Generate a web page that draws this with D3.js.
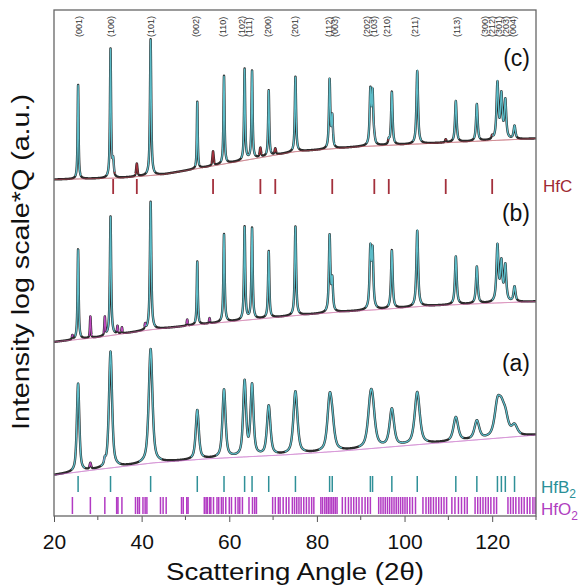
<!DOCTYPE html>
<html>
<head>
<meta charset="utf-8">
<script src="https://cdn.jsdelivr.net/npm/d3@7"></script>
<style>
body { margin: 0; background: #fff; }
svg { display: block; font-family: Arial, "Liberation Sans", sans-serif; }
</style>
</head>
<body>
<script>
// reflection positions (2theta)
const hfb2Peaks = [25.5, 32.9, 42.05, 52.7, 58.8, 63.5, 65.2, 69.0, 75.1, 82.9, 83.5, 92.2, 92.7, 97.1, 102.9, 111.7, 116.5, 121.2, 122.1, 123.0, 125.1];
const hfcPeaks = [33.5, 38.9, 56.3, 67.1, 70.5, 83.5, 93.1, 96.4, 109.4, 120.0];
const hfo2Peaks = [24.2, 28.3, 31.6, 34.3, 34.6, 35.5, 38.6, 39.1, 39.5, 40.3, 40.8, 41.2, 44.3, 44.9, 45.6,
  49.1, 49.5, 50.3, 50.6, 54.3, 54.7, 55.0, 55.5, 55.8, 56.4, 57.2, 57.6, 58.2, 58.6, 59.2, 60.0, 60.5,
  61.4, 62.0, 62.4, 63.0, 64.5, 65.3, 65.8, 66.2, 69.9, 70.5, 71.2, 71.6, 72.3, 73.0, 73.6, 74.4, 74.9,
  75.4, 75.9, 76.4, 77.0, 77.6, 78.2, 78.8, 79.3, 80.9, 81.3, 81.8, 82.2, 82.6, 83.0, 83.4, 83.8, 84.2,
  84.6, 85.8, 86.5, 87.2, 87.8, 88.4, 89.0, 89.6, 90.3, 91.0, 91.6, 92.2, 94.1, 94.6, 95.1, 95.6, 96.1,
  96.6, 97.1, 97.6, 98.1, 98.6, 99.1, 99.6, 100.1, 100.6, 101.2, 101.8, 102.5, 104.2, 104.9, 105.5,
  106.0, 106.6, 107.2, 107.8, 108.4, 109.0, 109.6, 110.8, 111.5, 112.3, 113.0, 113.7, 114.3, 116.1,
  116.7, 117.3, 117.9, 118.5, 119.1, 119.7, 120.4, 121.0, 123.6, 124.2, 124.8, 125.4, 126.1, 126.7,
  127.3, 128.0, 128.6, 129.3, 129.8];

// hkl labels on top
const hklText = ["(001)", "(100)", "(101)", "(002)", "(110)", "(102)", "(111)", "(200)", "(201)", "(112)", "(003)",
  "(202)", "(103)", "(210)", "(211)", "(113)", "(300)", "(212)", "(301)", "(203)", "(004)"];
const hklAt = [25.7, 32.9, 42.1, 52.5, 58.6, 63.0, 64.4, 68.8, 74.9, 82.7, 84.1, 91.4, 93.0, 95.9, 102.3, 111.9,
  118.3, 119.9, 121.5, 123.1, 124.7];

// pattern (c)
const bgC = [[20, 66.5], [35, 66.8], [45, 67.5], [55, 69.0], [65, 70.5], [75, 72.0], [90, 73.0], [100, 73.4], [115, 74.0], [130, 74.6]];
const hfb2C = [18.6, 25.5, 26.9, 13.2, 17.4, 18.0, 17.4, 13.0, 14.8, 13.5, 5.0, 10.5, 10.0, 10.5, 14.4, 8.1, 7.3, 11.0, 8.5, 7.5, 2.6];
const hwhmC = [0.13, 0.15, 0.17, 0.12, 0.15, 0.15, 0.15, 0.15, 0.17, 0.18, 0.18, 0.2, 0.2, 0.2, 0.22, 0.22, 0.22, 0.25, 0.25, 0.25, 0.25];
const hfcC = [3.0, 2.5, 2.8, 1.8, 1.2, 1.0, 0.8, 0.8, 0.6, 0.6];

// pattern (b)
const bgB = [[20, 34.4], [30, 35.3], [42, 36.8], [54, 37.9], [65, 38.8], [75, 39.6], [85, 40.3], [96, 40.9], [105, 41.5], [118, 42.0], [130, 42.4]];
const hfb2B = [17.8, 23.5, 25.3, 12.5, 17.4, 18.4, 18.0, 13.2, 17.6, 15.0, 6.0, 11.5, 11.0, 11.5, 15.0, 9.5, 7.3, 11.0, 7.5, 7.0, 3.0];
const hwhmB = [0.15, 0.17, 0.19, 0.14, 0.17, 0.17, 0.17, 0.17, 0.19, 0.2, 0.2, 0.22, 0.22, 0.22, 0.24, 0.24, 0.24, 0.27, 0.27, 0.27, 0.27];
const hfo2BPos = [24.2, 28.3, 31.6, 34.5, 35.5, 40.8, 50.4, 55.5];
const hfo2BHt = [0.8, 4.2, 3.6, 1.5, 1.2, 1.0, 1.2, 1.0];

// pattern (a)
const bgA = [[20, 8.1], [30, 9.2], [42.7, 10.5], [55, 11.3], [73, 12.1], [85, 12.8], [96, 13.6], [110, 14.6], [120, 15.3], [130, 16.0]];
const hfb2A = [17.4, 22.9, 22.5, 9.7, 13.4, 14.6, 13.8, 9.7, 12.3, 9.5, 4.0, 7.0, 6.0, 7.3, 10.3, 4.7, 3.6, 6.0, 4.0, 3.5, 2.0];
const hwhmA = [0.34, 0.42, 0.5, 0.42, 0.42, 0.4, 0.4, 0.47, 0.55, 0.6, 0.6, 0.68, 0.68, 0.6, 0.68, 0.64, 0.64, 0.77, 0.77, 0.77, 0.77];
const hfo2APos = [28.3, 31.6];
const hfo2AHt = [1.2, 1.0];

const width = 588, height = 585;
const plotL = 54, plotR = 536, plotT = 10, plotB = 516;

const svg = d3.select("body").append("svg")
  .attr("width", width)
  .attr("height", height);

const x = d3.scaleLinear().domain([20, 130]).range([plotL, plotR]);
const y = d3.scaleLinear().domain([0, 100]).range([plotB, plotT]);

// pseudo-Voigt peaks on the log intensity axis
function sumPeaks(t, pos, hts, wds, eta) {
  let s = 0;
  for (let i = 0; i < pos.length; i++) {
    const w = Array.isArray(wds) ? wds[i] : wds;
    const u = (t - pos[i]) / w;
    s += hts[i] * (eta / (1 + u * u) + (1 - eta) * Math.exp(-Math.LN2 * u * u));
  }
  return s;
}

const patterns = [
  { bg: bgC, main: [hfb2Peaks, hfb2C, hwhmC, 0.85], extra: [hfcPeaks, hfcC, 0.18, 0.6], extraColor: "#a3303c", bgColor: "#b8505e" },
  { bg: bgB, main: [hfb2Peaks, hfb2B, hwhmB, 0.85], extra: [hfo2BPos, hfo2BHt, 0.13, 0.6], extraColor: "#c048c0", bgColor: "#c8609c" },
  { bg: bgA, main: [hfb2Peaks, hfb2A, hwhmA, 0.65], extra: [hfo2APos, hfo2AHt, 0.2, 0.6], extraColor: "#c048c0", bgColor: "#c060c0" }
];

const grid = d3.range(20, 130.0001, 0.015);

patterns.forEach(p => {
  const bgScale = d3.scaleLinear().domain(p.bg.map(d => d[0])).range(p.bg.map(d => d[1]));
  const pts = grid.map(t => {
    const m = sumPeaks(t, ...p.main);
    const e = sumPeaks(t, ...p.extra);
    const b = bgScale(t);
    return { t, b, v: b + m + e, m, e };
  });

  // observed
  svg.append("path")
    .datum(pts)
    .attr("d", d3.line().x(d => x(d.t)).y(d => y(d.v)))
    .attr("fill", "none")
    .attr("stroke", "#2b2b2b")
    .attr("stroke-width", 2.4)
    .attr("stroke-linejoin", "round");

  // background
  svg.append("path")
    .datum(pts)
    .attr("d", d3.line().x(d => x(d.t)).y(d => y(d.b)))
    .attr("fill", "none")
    .attr("stroke", p.bgColor)
    .attr("stroke-width", 1);

  // secondary phase calc
  svg.append("path")
    .datum(pts)
    .attr("d", d3.line().defined(d => d.e > 0.35).x(d => x(d.t)).y(d => y(d.v)))
    .attr("fill", "none")
    .attr("stroke", p.extraColor)
    .attr("stroke-width", 1.2);

  // HfB2 calc
  svg.append("path")
    .datum(pts)
    .attr("d", d3.line().defined(d => d.m > 0.6).x(d => x(d.t)).y(d => y(d.v)))
    .attr("fill", "none")
    .attr("stroke", "#5cbcc8")
    .attr("stroke-width", 1.3);
});

// reflection markers
svg.append("g").selectAll("line")
  .data(hfcPeaks)
  .join("line")
  .attr("x1", d => x(d)).attr("x2", d => x(d))
  .attr("y1", 179).attr("y2", 194)
  .attr("stroke", "#a3303c")
  .attr("stroke-width", 1.8);

svg.append("g").selectAll("line")
  .data(hfb2Peaks)
  .join("line")
  .attr("x1", d => x(d)).attr("x2", d => x(d))
  .attr("y1", 476).attr("y2", 492)
  .attr("stroke", "#2f9098")
  .attr("stroke-width", 1.5);

svg.append("g").selectAll("line")
  .data(hfo2Peaks)
  .join("line")
  .attr("x1", d => x(d)).attr("x2", d => x(d))
  .attr("y1", 497).attr("y2", 514)
  .attr("stroke", "#a418b8")
  .attr("stroke-opacity", 0.85)
  .attr("stroke-width", 1.5);

// phase names
svg.append("text")
  .attr("x", 543).attr("y", 192)
  .attr("fill", "#9e2a33")
  .attr("font-size", 17)
  .text("HfC");

const b2 = svg.append("text")
  .attr("x", 541).attr("y", 493)
  .attr("fill", "#2a9098")
  .attr("font-size", 17);
b2.append("tspan").text("HfB");
b2.append("tspan").attr("font-size", 12).attr("dy", 5).text("2");

const o2 = svg.append("text")
  .attr("x", 541).attr("y", 515)
  .attr("fill", "#b040c0")
  .attr("font-size", 17);
o2.append("tspan").text("HfO");
o2.append("tspan").attr("font-size", 12).attr("dy", 5).text("2");

// panel labels
const panelLabels = ["(c)", "(b)", "(a)"];
const panelY = [66, 221, 371];
svg.append("g").selectAll("text")
  .data(panelLabels)
  .join("text")
  .attr("x", 530)
  .attr("y", (d, i) => panelY[i])
  .attr("text-anchor", "end")
  .attr("font-size", 23)
  .attr("fill", "#111")
  .text(d => d);

// hkl labels
svg.append("g").selectAll("text")
  .data(hklText)
  .join("text")
  .attr("transform", (d, i) => `translate(${x(hklAt[i])},37) rotate(-90)`)
  .attr("dominant-baseline", "central")
  .attr("font-size", 9)
  .attr("fill", "#333")
  .text(d => d);

// axes
const axis = svg.append("g")
  .attr("transform", `translate(0,${plotB})`)
  .call(d3.axisBottom(x).tickValues([20, 40, 60, 80, 100, 120]).tickSize(6).tickPadding(12).tickFormat(d3.format("d")));
axis.select(".domain").remove();
axis.selectAll(".tick line").attr("stroke", "#555");
axis.selectAll("text").attr("font-size", 21).attr("fill", "#111");

svg.append("g")
  .attr("transform", `translate(0,${plotB})`)
  .selectAll("line")
  .data([30, 50, 70, 90, 110, 130])
  .join("line")
  .attr("x1", d => x(d)).attr("x2", d => x(d))
  .attr("y1", 0).attr("y2", 4)
  .attr("stroke", "#555");

svg.append("rect")
  .attr("x", plotL).attr("y", plotT)
  .attr("width", plotR - plotL).attr("height", plotB - plotT)
  .attr("fill", "none")
  .attr("stroke", "#666")
  .attr("stroke-width", 1.3);

svg.append("text")
  .attr("x", 295)
  .attr("y", 580)
  .attr("text-anchor", "middle")
  .attr("font-size", 23)
  .attr("textLength", 258)
  .attr("lengthAdjust", "spacingAndGlyphs")
  .attr("fill", "#111")
  .text("Scattering Angle (2θ)");

svg.append("text")
  .attr("transform", `translate(29,262) rotate(-90)`)
  .attr("text-anchor", "middle")
  .attr("font-size", 23)
  .attr("textLength", 336)
  .attr("lengthAdjust", "spacingAndGlyphs")
  .attr("fill", "#111")
  .text("Intensity log scale*Q (a.u.)");
</script>
</body>
</html>
